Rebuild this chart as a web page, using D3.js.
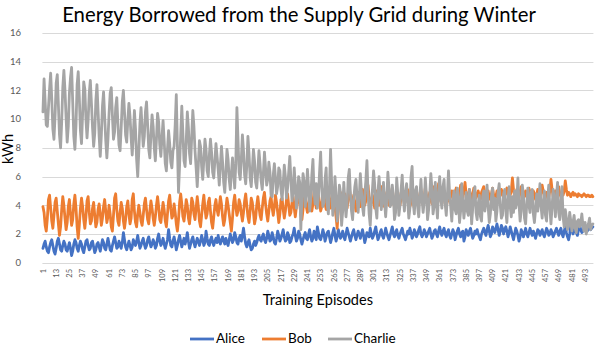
<!DOCTYPE html>
<html>
<head>
<meta charset="utf-8">
<script src="https://cdn.jsdelivr.net/npm/d3@7"></script>
<style>
  body { margin: 0; background: #fff; }
  svg { display: block; font-family: Lato, "Open Sans", sans-serif; }
</style>
</head>
<body>
<svg width="596" height="346"></svg>
<script>
const seriesNames = ["Alice", "Bob", "Charlie"];
const seriesColors = ["#4472C4", "#ED7D31", "#A5A5A5"];
const yTicks = [0, 2, 4, 6, 8, 10, 12, 14, 16];
const xTickLabels = [1, 13, 25, 37, 49, 61, 73, 85, 97, 109, 121, 133, 145, 157, 169, 181, 193, 205, 217, 229,
  241, 253, 265, 277, 289, 301, 313, 325, 337, 349, 361, 373, 385, 397, 409, 421, 433, 445, 457, 469, 481, 493];

const alice = [
  1.0,1.3,1.5,1.1,0.8,0.7,1.1,1.4,1.6,1.2, 0.8,0.6,1.0,1.5,1.7,1.3,0.9,0.8,1.2,1.5,
  1.3,0.9,0.8,1.1,1.4,1.0,0.5,0.8,1.3,1.6, 1.4,1.0,0.8,1.2,1.5,1.3,0.9,0.7,1.1,1.5,
  1.6,1.2,0.9,1.0,1.4,1.5,1.1,0.7,0.9,1.3, 1.4,1.1,0.8,1.2,1.6,1.4,1.0,0.9,1.3,1.7,
  1.3,0.9,0.8,1.2,1.5,1.8,1.4,1.0,1.1,1.5, 1.3,1.0,1.4,2.1,1.6,1.1,0.9,1.2,1.5,1.2,
  0.9,1.1,1.6,1.4,1.2,1.5,1.9,1.4,1.0,1.2, 1.5,1.7,1.3,1.0,1.2,1.6,1.8,1.4,1.1,1.3,
  1.6,1.4,1.0,1.2,1.7,2.0,1.5,1.2,1.4,1.7, 1.3,1.0,1.3,1.6,2.3,1.7,1.2,1.1,1.5,1.8,
  1.4,0.9,1.2,1.6,1.9,1.5,1.1,1.4,1.7,1.3, 1.6,2.1,1.5,1.0,1.3,1.6,1.8,1.4,1.1,1.4,
  1.7,1.5,1.2,1.5,1.9,1.6,1.2,1.4,2.2,1.7, 1.3,1.2,1.6,1.8,1.4,1.2,1.5,1.7,1.4,1.9,
  1.5,1.3,1.6,1.8,1.5,1.3,1.7,1.4,1.2,1.6, 2.0,1.7,1.4,1.6,2.1,1.8,1.4,1.3,1.7,1.9,
  1.5,1.9,2.4,1.8,1.3,1.1,1.4,1.6,1.2,0.9, 1.0,1.3,1.5,1.2,1.4,1.7,1.9,1.6,1.5,1.8,
  2.0,1.6,1.4,1.7,2.2,1.9,1.5,1.6,2.1,1.8, 1.4,1.3,1.7,2.2,1.9,1.5,1.7,2.0,2.3,1.8,
  1.5,1.6,2.1,1.9,1.4,1.5,1.8,2.0,2.4,1.9, 1.5,1.7,2.2,2.0,1.6,1.3,1.6,1.9,2.1,1.7,
  1.6,2.0,2.3,1.8,1.5,1.7,2.2,1.9,1.6,2.5, 2.1,1.7,1.6,1.9,2.3,2.0,1.5,1.8,2.1,2.2,
  1.8,1.4,1.7,2.1,2.4,1.9,1.5,1.8,2.3,2.0, 1.7,1.9,2.2,1.8,1.6,2.0,2.4,2.1,1.8,1.5,
  1.8,2.1,2.3,1.9,1.6,1.9,2.2,2.0,1.7,2.0, 2.3,1.9,1.4,1.7,2.1,1.9,1.8,2.4,2.0,1.7,
  1.9,2.2,2.5,2.0,1.6,1.8,2.1,2.3,1.9,1.7, 2.0,2.4,2.1,1.8,1.6,1.9,2.2,2.5,2.0,1.8,
  2.1,2.3,1.9,1.7,2.0,2.2,2.4,2.0,1.8,1.6, 1.9,2.2,2.0,2.4,2.1,1.7,1.9,2.3,2.1,1.8,
  2.0,2.3,2.5,2.0,1.8,2.0,2.3,2.1,1.8,2.0, 2.2,2.4,2.0,1.7,1.9,2.2,2.3,2.0,1.8,2.2,
  2.5,2.1,1.9,2.2,2.4,2.0,1.8,2.1,2.3,1.9, 1.7,2.0,2.3,2.1,1.6,1.9,2.2,2.4,2.0,1.8,
  2.1,2.2,1.5,1.8,2.3,2.1,1.9,2.2,2.4,2.0, 1.7,1.9,2.2,2.0,2.3,2.0,1.8,1.6,2.0,2.2,
  2.4,2.1,1.9,2.3,2.6,2.2,1.8,2.0,2.5,2.3, 2.1,2.4,2.7,2.3,1.9,2.2,2.6,2.4,2.0,2.3,
  2.5,2.2,1.8,2.1,2.5,2.2,1.9,1.6,2.0,2.4, 2.2,1.9,1.5,1.8,2.3,2.1,1.8,2.1,2.4,2.0,
  1.8,2.1,2.4,2.1,1.9,2.2,2.0,1.7,2.0,2.3, 2.2,1.9,2.1,2.3,2.0,1.8,2.1,2.4,2.2,1.9,
  2.0,2.3,2.1,1.8,2.0,2.2,2.4,2.1,1.9,2.2, 2.4,2.0,1.8,2.2,2.5,2.1,1.8,1.6,2.0,2.6,
  2.3,2.0,2.2,2.5,2.1,1.9,2.3,2.7,2.3,2.1, 2.2,2.5,2.6,2.3,2.2,2.4,2.5,2.3,2.4,2.5
];

const bob = [
  3.9,3.5,2.6,2.2,3.1,4.4,4.7,3.8,2.9,2.4, 3.3,4.2,4.5,3.6,2.7,1.9,2.5,3.7,4.6,4.0,
  3.1,2.3,2.8,3.9,4.4,3.4,2.6,3.0,4.1,4.7, 3.8,2.5,1.7,2.6,3.8,4.5,3.9,3.0,2.4,3.2,
  4.3,4.6,3.5,2.7,2.9,3.8,4.2,3.3,2.5,2.8, 3.7,4.1,3.4,2.6,3.1,3.9,4.4,3.6,2.8,3.2,
  4.0,3.4,2.5,2.2,3.3,4.5,4.8,3.7,2.9,2.6, 3.5,4.2,3.8,2.9,2.4,3.0,3.9,4.3,3.4,2.7,
  3.1,4.4,4.8,3.6,2.8,2.5,3.4,4.0,3.5,2.9, 2.6,3.3,4.1,4.5,3.7,3.0,2.7,3.6,4.3,3.8,
  3.1,2.6,3.2,4.0,4.6,3.9,3.0,2.8,3.5,4.2, 3.7,2.9,2.5,3.4,4.3,4.7,3.8,3.1,3.3,4.1,
  3.5,2.7,2.2,3.0,4.2,4.8,4.1,3.2,2.9,3.6, 4.4,4.0,3.1,2.7,3.5,4.5,4.2,3.4,3.0,3.8,
  4.6,3.9,2.9,2.5,3.3,4.1,4.7,3.8,3.1,3.4, 4.2,4.5,3.6,2.8,2.4,3.2,4.0,4.4,3.7,3.3,
  3.9,4.6,4.1,3.2,2.6,3.0,3.8,4.5,4.0,3.4, 2.8,2.2,3.1,4.2,4.7,3.9,3.3,3.6,4.4,4.1,
  3.4,2.9,3.5,4.3,4.8,4.0,3.2,2.8,3.6,4.5, 4.2,3.5,2.7,3.1,4.0,4.6,3.9,3.3,3.0,3.8,
  4.5,4.9,4.1,3.4,2.9,3.6,4.3,4.6,3.8,3.3, 3.9,4.7,4.2,3.5,2.8,3.4,4.4,4.5,3.7,3.1,
  3.6,4.4,4.8,4.0,3.3,3.5,4.2,4.6,3.8,3.2, 3.9,4.5,4.9,4.1,3.4,3.0,3.7,4.5,4.7,3.9,
  3.5,4.0,4.6,4.3,3.6,4.1,5.0,4.4,3.8,4.2, 4.7,4.2,3.6,3.9,4.6,4.8,4.1,3.7,4.3,5.1,
  4.4,3.8,4.2,4.9,4.6,3.9,3.2,2.4,3.6,4.5, 4.9,4.3,3.9,4.4,4.8,4.2,3.8,4.5,5.2,4.6,
  4.0,4.3,4.7,4.1,3.6,4.2,4.9,4.5,3.9,4.4, 5.1,4.6,4.0,4.3,4.8,5.4,4.5,3.9,4.2,4.7,
  4.4,3.8,4.3,5.0,4.6,4.0,4.5,5.3,4.7,4.1, 3.9,4.4,4.9,4.5,4.0,4.3,4.7,5.2,4.4,3.8,
  4.2,4.6,4.9,4.4,4.0,4.5,5.0,4.6,4.1,4.3, 4.8,5.1,4.5,3.9,4.2,4.7,4.4,3.8,4.3,5.0,
  4.6,4.1,4.5,4.9,4.3,4.0,4.6,5.2,4.7,4.2, 4.5,4.9,4.4,4.1,4.7,5.3,4.8,4.2,4.6,5.5,
  4.9,4.3,4.1,4.6,5.0,4.5,3.8,4.4,4.8,4.3, 4.6,5.0,4.7,4.4,4.9,5.2,4.6,4.3,4.8,5.4,
  4.9,4.5,5.0,5.6,4.8,4.4,4.7,5.1,4.6,4.3, 4.8,5.2,4.9,4.5,4.7,5.0,4.6,4.4,4.9,5.1,
  5.3,4.8,4.5,4.9,5.0,4.6,4.4,4.8,5.2,4.7, 4.4,4.6,5.0,4.8,4.5,4.7,5.1,4.9,4.5,4.6,
  4.9,5.2,4.8,4.5,4.7,5.0,5.9,5.1,4.6,4.8, 5.1,4.7,4.5,4.9,5.3,4.8,4.5,4.7,5.0,4.6,
  4.8,5.2,4.9,4.5,4.7,5.0,4.8,4.4,4.7,5.1, 4.8,4.5,4.9,5.4,5.0,4.6,4.5,4.9,4.7,4.6,
  5.0,5.8,5.1,4.6,4.8,5.0,4.7,4.9,5.3,4.8, 4.6,4.9,4.7,5.0,5.7,5.1,4.7,4.9,4.8,4.6,
  4.8,4.9,4.7,4.8,4.7,4.6,4.8,4.7,4.7,4.6, 4.7,4.8,4.7,4.6,4.7,4.7,4.6,4.6,4.7,4.6
];

const charlie = [
  10.5,12.8,11.2,9.6,9.5,10.8,12.1,13.2,11.4,9.3, 8.6,10.2,12.5,13.1,11.0,8.9,8.0,9.8,12.2,13.4,
  12.0,10.1,8.4,9.5,11.8,12.9,13.6,11.2,8.8,7.9, 9.6,12.4,13.3,11.5,9.2,8.3,10.4,12.6,12.1,10.0,
  8.7,9.9,11.8,12.7,11.1,9.4,8.1,9.0,11.3,12.4, 10.6,8.8,7.4,8.9,10.9,11.9,10.2,8.5,7.3,8.6,
  10.4,11.8,12.2,10.3,8.6,9.1,10.8,11.5,9.7,8.2, 7.8,9.4,11.2,12.0,10.5,8.9,8.4,9.9,11.1,10.2,
  8.7,7.5,8.9,10.6,9.3,7.2,6.0,7.8,9.7,10.8, 9.4,8.1,8.8,10.5,11.2,9.6,7.9,7.3,8.9,10.3,
  9.5,8.0,7.1,8.6,10.4,9.8,8.2,7.4,8.7,9.9, 8.5,6.9,6.4,7.9,9.2,8.3,7.0,6.6,7.8,8.1,
  9.6,11.7,8.2,4.9,6.8,8.9,10.9,9.0,7.1,6.7, 8.4,10.5,9.4,7.6,6.9,8.8,10.6,9.5,7.8,6.6,
  5.3,6.8,8.5,8.1,6.7,5.8,7.2,8.6,7.9,6.4, 6.0,7.5,8.6,7.7,6.3,5.9,7.1,8.3,7.4,6.5,
  5.4,6.8,8.1,7.0,5.6,4.9,6.3,7.9,7.2,5.8, 5.1,6.2,7.3,6.4,5.2,6.9,10.8,8.6,6.3,5.8,
  7.2,8.9,7.8,6.1,5.5,6.8,8.8,7.6,5.9,5.3, 6.5,7.9,7.1,5.6,5.2,6.4,7.8,6.9,5.7,5.1,
  6.2,7.7,6.6,5.4,5.8,7.0,6.3,4.7,4.6,6.1, 6.9,5.9,4.8,5.3,6.6,6.4,5.1,4.4,5.5,6.8,
  6.0,4.5,5.2,6.3,7.4,5.8,4.3,4.9,6.6,5.4, 3.8,4.7,6.0,5.6,2.3,4.5,6.2,5.7,3.9,4.8,
  6.5,5.3,3.6,4.4,6.1,7.2,5.0,4.1,5.5,3.8, 4.6,6.3,7.7,5.2,3.9,4.2,5.8,6.6,4.0,3.4,
  5.2,7.9,5.5,3.3,4.0,6.0,4.7,2.9,3.8,5.4, 4.9,2.6,3.6,5.6,4.3,3.2,4.1,5.9,6.5,4.8,
  3.6,3.0,4.4,5.3,5.8,4.6,3.5,4.5,6.2,5.0, 3.9,3.3,4.7,5.7,7.1,4.9,3.4,2.6,4.2,5.1,
  6.4,5.5,3.8,3.1,4.9,6.0,4.8,3.7,4.4,5.6, 4.2,3.2,4.4,6.3,5.2,3.9,4.1,5.4,4.6,3.0,
  3.5,5.9,4.8,3.3,4.0,5.1,6.1,4.5,3.6,4.9, 5.5,4.3,3.1,3.8,6.0,6.7,4.2,3.4,5.0,5.3,
  3.9,3.2,4.6,5.8,4.4,3.5,4.3,5.9,4.7,3.0, 3.7,4.8,6.2,5.1,3.4,4.0,5.6,4.2,3.1,4.9,
  6.0,4.5,3.8,5.3,5.8,4.1,3.3,4.7,6.4,4.8, 3.9,2.9,4.3,5.0,3.7,3.4,5.2,4.6,2.8,3.6,
  5.5,4.2,3.1,3.9,4.9,3.6,3.3,5.1,4.4,2.7, 3.8,4.8,5.3,3.5,3.0,4.1,4.7,3.2,2.9,4.6,
  5.0,3.6,4.3,5.4,3.9,2.8,3.4,4.6,5.2,3.7, 4.5,2.9,3.6,4.9,5.5,4.0,3.1,3.3,4.8,5.1,
  3.6,2.8,4.4,5.3,3.9,3.2,4.6,3.5,5.0,3.8, 4.3,5.9,4.1,2.9,3.6,5.4,4.7,3.1,2.7,4.1,
  5.2,4.0,3.5,4.9,5.1,3.4,2.8,3.7,4.8,3.6, 4.4,5.5,3.9,3.1,4.2,5.0,3.3,2.9,4.5,5.4,
  3.8,2.7,3.9,5.1,4.3,3.2,4.7,5.6,3.5,3.0, 4.1,5.3,3.2,2.5,3.7,3.1,2.3,2.6,3.5,2.9,
  2.2,2.8,3.3,2.4,2.1,2.9,3.0,2.5,2.7,3.4, 2.6,2.2,2.8,2.0,2.4,2.7,3.1,2.3,2.6,2.7
];

const episodes = alice.map((d, i) => i + 1);
const series = [alice, bob, charlie];

const svg = d3.select("svg");
const plotLeft = 42.4, plotRight = 593.4, plotTop = 33, plotBottom = 262.7;

const x = d3.scalePoint()
  .domain(episodes)
  .range([plotLeft, plotRight])
  .padding(0.5);

const y = d3.scaleLinear()
  .domain([0, 16])
  .range([plotBottom, plotTop]);

// gridlines
svg.append("g")
  .selectAll("line")
  .data(yTicks)
  .join("line")
  .attr("x1", plotLeft)
  .attr("x2", plotRight)
  .attr("y1", d => Math.round(y(d)) + 0.5)
  .attr("y2", d => Math.round(y(d)) + 0.5)
  .attr("stroke", "#D9D9D9")
  .attr("stroke-width", 1);

// y labels
svg.append("g")
  .selectAll("text")
  .data(yTicks)
  .join("text")
  .attr("x", 21)
  .attr("y", d => y(d))
  .attr("dy", "0.35em")
  .attr("text-anchor", "end")
  .attr("fill", "#595959")
  .style("font-size", "9.5px")
  .text(d => d);

// x labels
svg.append("g")
  .selectAll("text")
  .data(xTickLabels)
  .join("text")
  .attr("transform", d => `translate(${x(d)},269) rotate(-90)`)
  .attr("dy", "0.35em")
  .attr("text-anchor", "end")
  .attr("fill", "#595959")
  .style("font-size", "7.5px")
  .text(d => d);

// lines
const line = d3.line()
  .x((d, i) => x(episodes[i]))
  .y(d => y(d));

svg.append("g")
  .selectAll("path")
  .data(series)
  .join("path")
  .attr("d", line)
  .attr("fill", "none")
  .attr("stroke", (d, i) => seriesColors[i])
  .attr("stroke-width", 2.8)
  .attr("stroke-linejoin", "round")
  .attr("stroke-linecap", "round");

// titles
svg.append("text")
  .attr("x", 299)
  .attr("y", 22)
  .attr("text-anchor", "middle")
  .attr("fill", "#000")
  .style("font-size", "20.3px")
  .text("Energy Borrowed from the Supply Grid during Winter");

svg.append("text")
  .attr("x", (plotLeft + plotRight) / 2)
  .attr("y", 305)
  .attr("text-anchor", "middle")
  .attr("fill", "#000")
  .style("font-size", "14.5px")
  .text("Training Episodes");

svg.append("text")
  .attr("transform", "translate(13,149) rotate(-90)")
  .attr("text-anchor", "middle")
  .attr("fill", "#000")
  .style("font-size", "14.5px")
  .text("kWh");

// legend
const legendX = [190, 262, 328];
const items = svg.append("g")
  .selectAll("g")
  .data(seriesNames)
  .join("g")
  .attr("transform", (d, i) => `translate(${legendX[i]},0)`);
items.append("line")
  .attr("x1", 0).attr("x2", 24)
  .attr("y1", 339).attr("y2", 339)
  .attr("stroke", (d, i) => seriesColors[i])
  .attr("stroke-width", 2.8);
items.append("text")
  .attr("x", 26)
  .attr("y", 343)
  .attr("fill", "#000")
  .style("font-size", "13.5px")
  .text(d => d);
</script>
</body>
</html>
